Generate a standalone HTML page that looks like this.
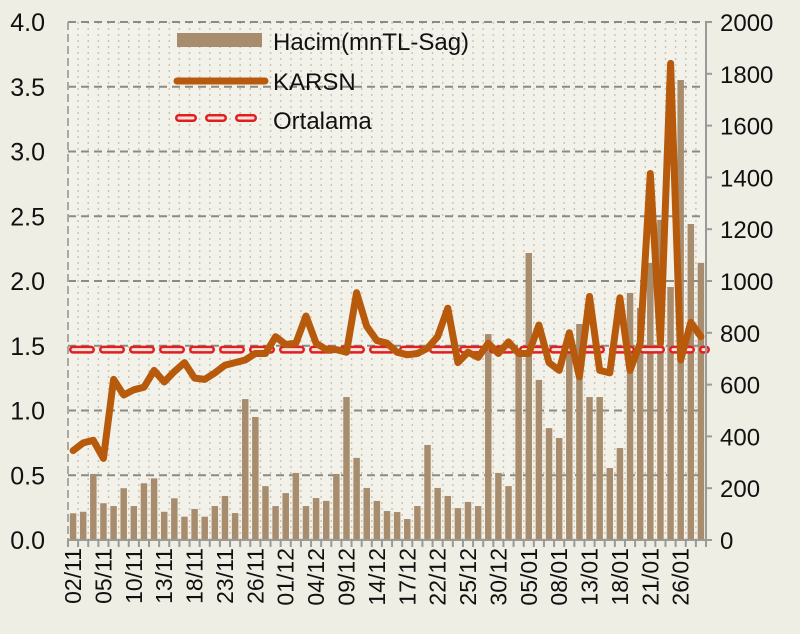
<!DOCTYPE html>
<html><head><meta charset="utf-8"><style>
html,body{margin:0;padding:0;background:#efeee4;}
svg{display:block;font-family:"Liberation Sans",sans-serif;}
</style></head><body>
<svg id="chart" width="800" height="634" viewBox="0 0 800 634" xmlns="http://www.w3.org/2000/svg">
<rect x="0" y="0" width="800" height="634" fill="#efeee4"/>
<g id="grid"></g><g id="bars"></g><g id="avg"></g><g id="line"></g><g id="axes"></g>
<g id="legend">
 <rect x="177" y="33" width="85" height="14" fill="#a78c6e"/>
 <text x="273" y="50" font-size="24" fill="#111">Hacim(mnTL-Sag)</text>
 <line x1="177" y1="81" x2="265" y2="81" stroke="#b85a0c" stroke-width="7" stroke-linecap="round"/>
 <text x="273" y="90" font-size="24" fill="#111">KARSN</text>
 <line x1="179" y1="118" x2="256" y2="118" stroke="#e02020" stroke-width="8" stroke-dasharray="14,16" stroke-linecap="round"/>
 <line x1="179" y1="118" x2="256" y2="118" stroke="#fbe3dc" stroke-width="3" stroke-dasharray="14,16" stroke-linecap="round"/>
 <text x="273" y="129" font-size="24" fill="#111">Ortalama</text>
</g>
</svg>
<script>
const categories = ["02/11","","","05/11","","","10/11","","","13/11","","","18/11","","","23/11","","","26/11","","","01/12","","","04/12","","","09/12","","","14/12","","","17/12","","","22/12","","","25/12","","","30/12","","","05/01","","","08/01","","","13/01","","","18/01","","","21/01","","","26/01","",""];
const volume = [103,109,255,142,131,200,131,219,238,109,161,90,120,90,131,170,104,544,475,208,131,181,259,131,162,151,255,552,317,201,151,112,108,81,131,367,201,170,123,147,131,795,259,208,714,1108,618,432,394,734,834,552,552,278,355,954,896,1070,1236,977,1776,1220,1070];
const price = [0.69,0.75,0.77,0.63,1.24,1.12,1.16,1.18,1.31,1.22,1.30,1.37,1.25,1.24,1.29,1.35,1.37,1.39,1.44,1.44,1.57,1.51,1.52,1.73,1.52,1.47,1.47,1.45,1.91,1.65,1.54,1.52,1.45,1.43,1.44,1.48,1.57,1.79,1.37,1.45,1.41,1.52,1.44,1.53,1.44,1.44,1.66,1.37,1.31,1.60,1.26,1.88,1.31,1.29,1.87,1.31,1.52,2.83,1.52,3.68,1.39,1.68,1.57];
const average = [1.47];
const leftTicks = ["0.0","0.5","1.0","1.5","2.0","2.5","3.0","3.5","4.0"];
const rightTicks = ["0","200","400","600","800","1000","1200","1400","1600","1800","2000"];

const NS="http://www.w3.org/2000/svg";
const X0=68,X1=706,Y0=540,Y1=22;
const n=categories.length, bw=(X1-X0)/n;
const xC=i=>X0+(i+0.5)*bw;
const yL=v=>Y0-(v/4)*(Y0-Y1);
const yR=v=>Y0-(v/2000)*(Y0-Y1);
function mk(tag,attrs,parent){const e=document.createElementNS(NS,tag);for(const k in attrs)e.setAttribute(k,attrs[k]);document.getElementById(parent).appendChild(e);return e;}

let e=mk('rect',{x:X0,y:Y1,width:X1-X0,height:Y0-Y1,fill:'#f3f2ea'},'grid');


for(let i=1;i<n;i++){const x=X0+i*bw;
 e=mk('line',{x1:x,y1:Y1,x2:x,y2:Y0,stroke:'#c9c6b4','stroke-width':1.5,'stroke-dasharray':'2,4'},'grid');
 
 }
for(let k=1;k<leftTicks.length;k++){const y=yL(k*0.5);
 e=mk('line',{x1:X0,y1:y,x2:X1,y2:y,stroke:'#8a8a86','stroke-width':2,'stroke-dasharray':'8,5'},'grid');
 
 }
volume.forEach((v,i)=>{const y=yR(v);
 e=mk('rect',{x:xC(i)-bw*0.32,y:y,width:bw*0.64,height:Y0-y,fill:'#a78c6e'},'bars');
 
 });
const ya=yL(average[0]);
e=mk('line',{x1:X0+5,y1:ya,x2:X1,y2:ya,stroke:'#e02020','stroke-width':8,'stroke-dasharray':'18,12','stroke-linecap':'round'},'avg');


e=mk('line',{x1:X0+5,y1:ya,x2:X1,y2:ya,stroke:'#fbe3dc','stroke-width':3,'stroke-dasharray':'18,12','stroke-linecap':'round'},'avg');


const pts=price.map((v,i)=>xC(i).toFixed(1)+','+yL(v).toFixed(1)).join(' ');
e=mk('polyline',{points:pts,fill:'none',stroke:'#b85a0c','stroke-width':7,'stroke-linejoin':'round','stroke-linecap':'round'},'line');


e=mk('line',{x1:X0,y1:Y1,x2:X0,y2:Y0,stroke:'#a8a8a4','stroke-width':2,'stroke-dasharray':'8,4'},'axes');


e=mk('line',{x1:X1,y1:Y1,x2:X1,y2:Y0,stroke:'#9a9a96','stroke-width':2},'axes');


e=mk('line',{x1:X0,y1:Y0,x2:X1,y2:Y0,stroke:'#9a9a96','stroke-width':2},'axes');


for(let i=0;i<=n;i++){const x=X0+i*bw;
 e=mk('line',{x1:x,y1:Y0,x2:x,y2:Y0+7,stroke:'#9a9a96','stroke-width':2},'axes');
 
 }
leftTicks.forEach((t,k)=>{const y=yL(k*0.5);
 e=mk('text',{x:45,y:y+9,'font-size':25,'text-anchor':'end',fill:'#111'},'axes');e.textContent=t;
 
 });
rightTicks.forEach((t,k)=>{const y=yR(k*200);
 e=mk('line',{x1:X1,y1:y,x2:X1+6,y2:y,stroke:'#9a9a96','stroke-width':2},'axes');
 
 
 e=mk('text',{x:720,y:y+9,'font-size':24,fill:'#111'},'axes');e.textContent=t;
 
 });
categories.forEach((c,i)=>{if(!c)return;const x=xC(i)+8;
 e=mk('text',{x:x,y:548,'font-size':23,'text-anchor':'end',fill:'#111',transform:'rotate(-90 '+x+' 548)'},'axes');e.textContent=c;
 
 });
</script>
</body></html>
